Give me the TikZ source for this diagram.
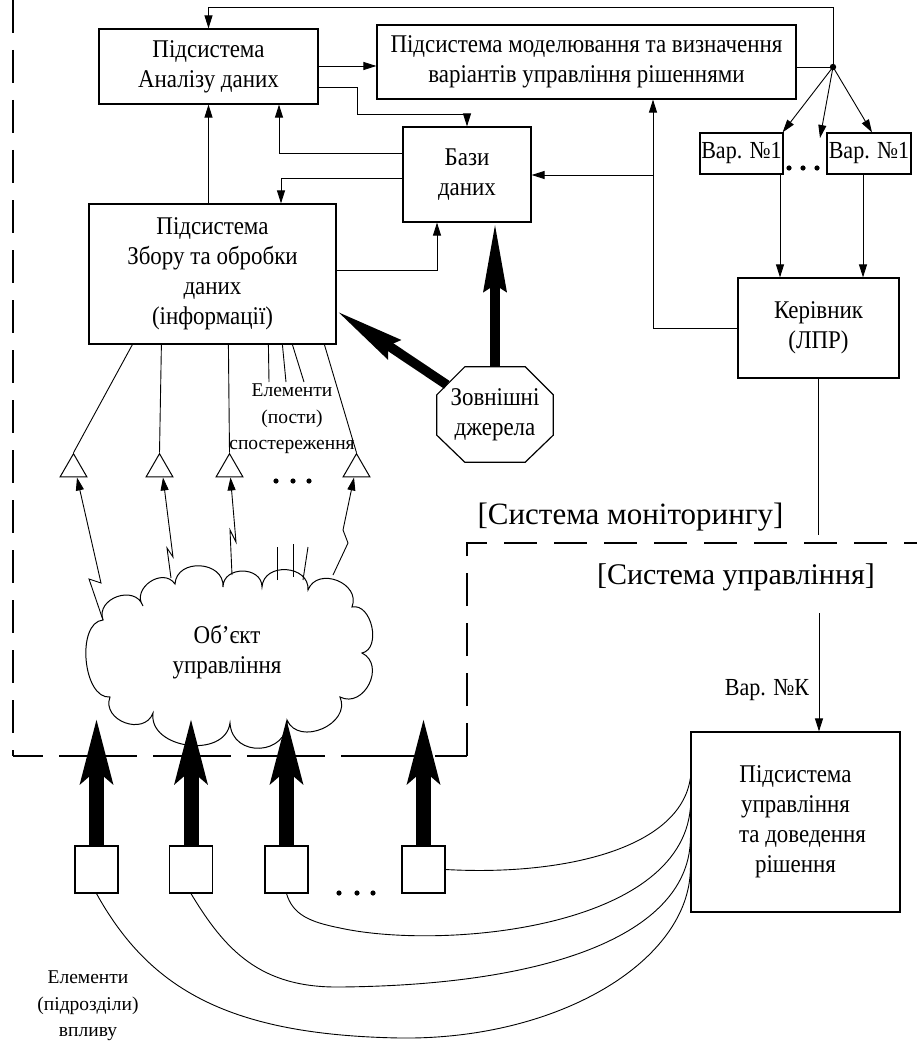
\documentclass[tikz,border=0pt]{standalone}
\usepackage{fontspec}
\setmainfont{Liberation Serif}
\newfontfamily\condfont[FakeStretch=0.9]{Liberation Serif}
\usetikzlibrary{arrows.meta,shapes.geometric,calc}
\newcommand\fsmain{\condfont\fontsize{25.5}{30}\selectfont}
\newcommand\fssmall{\fontsize{19.5}{26.5}\selectfont}
\newcommand\fsvar{\condfont\fontsize{24.5}{28}\selectfont}
\newcommand\fsbig{\fontsize{31}{36}\selectfont}
\begin{document}
\begin{tikzpicture}[x=1pt,y=-1pt,
  box/.style={draw, line width=1.2pt, align=center, inner sep=0pt, font=\fsmain},
  ln/.style={line width=0.9pt},
  ar/.style={ln, -{Triangle[length=13pt,width=8pt]}},
  fat/.style={line width=15pt, -{Stealth[length=64pt,width=31pt,inset=12pt]}},
  midfat/.style={line width=9.5pt, -{Stealth[length=68pt,width=22pt,inset=6pt]}},
  tri/.style={draw, line width=1pt, regular polygon, regular polygon sides=3, minimum size=31pt, inner sep=0pt},
  sbox/.style={draw, line width=1.2pt, minimum width=43pt, minimum height=47pt, inner sep=0pt},
  dsh/.style={line width=1.2pt, dash pattern=on 33pt off 17pt},
  lbl/.style={align=center, inner sep=0pt},
  bump/.style={bend left=90, looseness=1.4}
]
\useasboundingbox (0,0) rectangle (917,1043);

% boundaries
\draw[dsh] (13,0) -- (13,756);
\draw[line width=1.2pt, dash pattern=on 78pt off 16pt, dash phase=48pt] (13,756) -- (467,756);
\draw[dsh] (467,756) -- (467,543) -- (917,543);

% main boxes
\node[box, minimum width=219pt, minimum height=75pt] (anal) at (208.5,66.5) {Підсистема\\Аналізу даних};
\node[box, minimum width=419pt, minimum height=74pt] (model) at (586.5,62) {Підсистема моделювання та визначення\\варіантів управління рішеннями};
\node[box, minimum width=128pt, minimum height=95pt] (bazy) at (467,174.5) {Бази\\даних};
\node[box, minimum width=247pt, minimum height=140pt] (collect) at (212.5,274) {Підсистема\\Збору та обробки\\даних\\(інформації)};
\node[box, font=\fsvar, minimum width=83pt, minimum height=41pt] (var1) at (741.5,153.5) {Вар. №1};
\node[box, font=\fsvar, minimum width=84pt, minimum height=41pt] (var2) at (869,153.5) {Вар. №1};
\node[box, minimum width=161pt, minimum height=100pt] (ker) at (818.5,328) {Керівник\\(ЛПР)};
\node[box, minimum width=209pt, minimum height=180pt] (ctrl) at (795.5,822) {Підсистема\\управління\\\hspace*{14pt}та доведення\\рішення};

% external sources octagon
\node[lbl, font=\fsmain, minimum width=116pt, minimum height=95pt] (ext) at (495,414.5) {Зовнішні\\джерела};
\draw[line width=1.2pt] ($(ext.north west)+(28,0)$) -- ($(ext.north east)+(-28,0)$) -- ($(ext.north east)+(0,28)$) -- ($(ext.south east)+(0,-27)$) -- ($(ext.south east)+(-28,0)$) -- ($(ext.south west)+(28,0)$) -- ($(ext.south west)+(0,-27)$) -- ($(ext.north west)+(0,28)$) -- cycle;

% junction dot
\fill (833,67) circle (3.2pt) coordinate (dot);
\coordinate (topy) at (833,7);
\coordinate (mid) at (820,138);
\coordinate (jn) at (653,175);

% top connectors
\draw[ar] (dot) -- (topy) -| (anal.north);
\draw[ar] (anal.east |- 0,66) -- (model.west |- 0,66);
\draw[ln] (model.east |- dot) -- (dot);
\draw[ar] (anal.east |- 0,87) -- (357,87) -- (357,114) -| (bazy.north);
\draw[ar] (bazy.west |- 0,153) -| ([xshift=70.5pt]anal.south);
\draw[ar] (bazy.west |- 0,178) -| ([xshift=68.5pt]collect.north);
\draw[ar] (anal.south |- collect.north) -- (anal.south);
\draw[ar] (collect.east |- 0,270) -| ([xshift=-30pt]bazy.south);
\draw[ar] (dot) -- ([xshift=-1pt]var1.north east);
\draw[ar] (dot) -- (mid);
\draw[ar] (dot) -- ([xshift=3pt]var2.north);
\draw[ar] ([xshift=38.5pt]var1.south) -- (ker.north -| 780,0);
\draw[ar] ([xshift=-6pt]var2.south) -- (ker.north -| 863,0);
\draw[ar] (ker.west) -| (model.south -| jn);
\draw[ar] (jn) -- (bazy.east |- jn);
\draw[ln] (ker.south) -- (ker.south |- 0,535);
\coordinate (vk) at (819,613);
\draw[ar] (vk) -- (ctrl.north -| vk);

% dots near variants
\foreach \x in {789,803,817} \fill (\x,168) circle (2.6pt);

% fat arrows from external sources
\draw[midfat] (ext.north) -- (ext.north |- bazy.south);
\draw[midfat] ($(ext.north west)+(10,18)$) -- ([yshift=-37pt]collect.east);

% triangles (observation posts)
\node[tri] (t1) at (73.5,469.2) {};
\node[tri] (t2) at (159.5,469.2) {};
\node[tri] (t3) at (229.5,469.2) {};
\node[tri] (t4) at (356.5,469.2) {};
\draw[ln] ([xshift=44pt]collect.south west) -- (t1.north);
\draw[ln] ([xshift=73pt]collect.south west) -- (t2.north);
\draw[ln] ([xshift=140pt]collect.south west) -- (t3.north);
\draw[ln] ([xshift=236pt]collect.south west) -- (t4.north);
\draw[ln] ([xshift=180pt]collect.south west) -- (269,382);
\draw[ln] ([xshift=194pt]collect.south west) -- (286,382);
\draw[ln] ([xshift=204pt]collect.south west) -- (304,382);
\node[lbl, font=\fssmall] (posts) at (292,419) {Елементи\\(пости)\\спостереження};
\foreach \x in {276,293,309} \fill (\x,481) circle (2.6pt);

% cloud
\draw[line width=1pt, fill=white] (103,620)
  to[bump] (143,606) to[bump] (175,584) to[bump] (223,587) to[bump] (262,587)
  to[bump] (308,590) to[bump] (352,607) to[bend left=90,looseness=1.1] (362,653)
  to[bump] (340,697) to[bend left=90,looseness=1.3] (287,720) to[bend left=90,looseness=1.6] (230,723)
  to[bend left=90,looseness=1.2] (153,713) to[bump] (110,697) to[bend left=90,looseness=0.9] (103,620) -- cycle;
\node[lbl, font=\fsmain] (cloud) at (227,652) {Об’єкт\\управління};
\coordinate (c1) at (103,620);
\coordinate (c2) at (171,578);
\coordinate (c3) at (232,575);
\coordinate (c4) at (333,575);
\draw[ar] (c1) -- (89,579) -- (101,583) -- ([xshift=3.5pt]t1.south);
\draw[ar] (c2) -- (167,548) -- (173,557) -- ([xshift=3.5pt]t2.south);
\draw[ar] (c3) -- (230,530) -- (236,542) -- ([xshift=1pt]t3.south);
\draw[ar] (c4) -- (348,543) -- (343,530) -- ([xshift=-2.5pt]t4.south);
\draw[ln] (277,580) -- (277,547);
\draw[ln] (293,577) -- (293,544);
\draw[ln] (303,580) -- (308,547);

% labels
\node[lbl, font=\fsbig] (mon) at (630.5,517) {[Система моніторингу]};
\node[lbl, font=\fontsize{30}{35}\selectfont] (upr) at (736,577) {[Система управління]};
\node[lbl, font=\fsvar] (vark) at (767,690) {Вар. №К};

% effect elements
\node[sbox] (s1) at (96.5,869.5) {};
\node[sbox] (s2) at (191,869.5) {};
\node[sbox] (s3) at (286.5,869.5) {};
\node[sbox] (s4) at (423.5,869.5) {};
\foreach \s in {s1,s2,s3,s4} \draw[fat] (\s.north) -- (\s.north |- 0,718);
\foreach \x in {339,357,373} \fill (\x,893) circle (2.6pt);
\draw[ln] (s1.south) .. controls (150,990) and (230,1035) .. (400,1038) .. controls (560,1040) and (690,960) .. (ctrl.west |- 0,868);
\draw[ln] (s2.south) .. controls (225,950) and (260,988) .. (340,987) .. controls (560,985) and (690,930) .. (ctrl.west |- 0,838);
\draw[ln] (s3.south) .. controls (293,915) and (310,922) .. (340,928) .. controls (440,950) and (680,930) .. (ctrl.west |- 0,808);
\draw[ln] (s4.east) .. controls (560,876) and (680,850) .. (ctrl.west |- 0,778);
\node[lbl, font=\fssmall] (infl) at (88,1006) {Елементи\\(підрозділи)\\впливу};
\end{tikzpicture}
\end{document}
